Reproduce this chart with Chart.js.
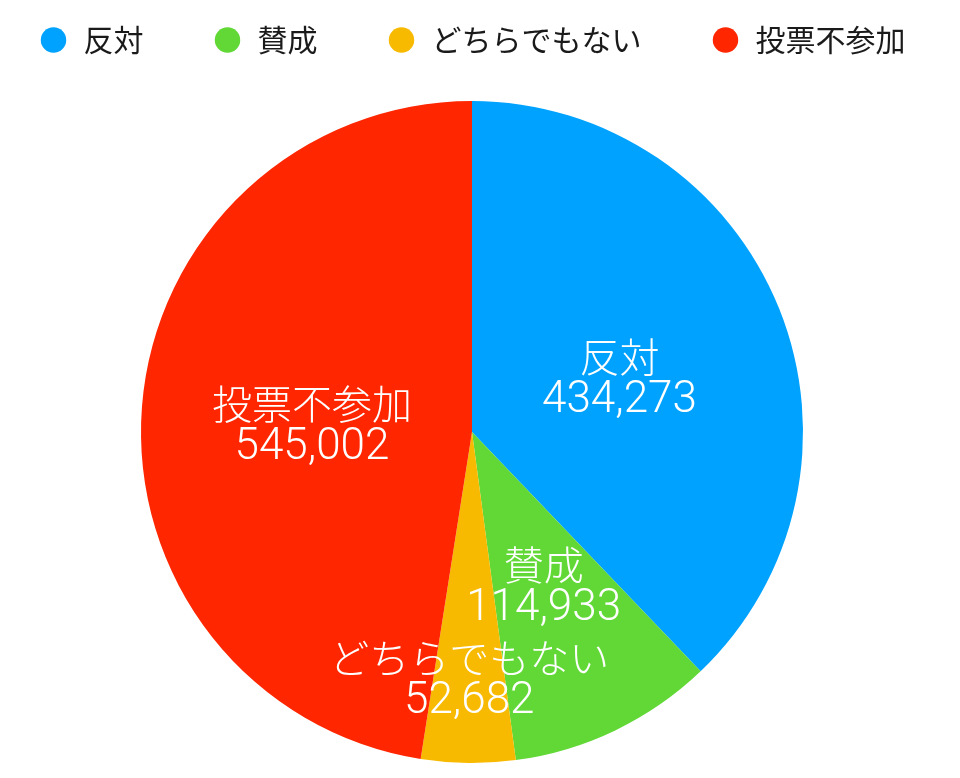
<!DOCTYPE html>
<html>
<head>
<meta charset="utf-8">
<script src="https://cdn.jsdelivr.net/npm/chart.js@4"></script>
<style>
  html, body { margin: 0; padding: 0; background: #fff; }
  #wrap { width: 960px; height: 778px; }
</style>
</head>
<body>
<div id="wrap"><canvas id="voteChart"></canvas></div>
<script>
// Vote results
const labels = ['反対', '賛成', 'どちらでもない', '投票不参加'];
const votes = [434273, 114933, 52682, 545002];
const colors = ['#00A2FF', '#61D836', '#F8BA00', '#FF2600'];
// how far out (fraction of radius) each slice label sits
const labelRadius = [0.48, 0.50, 0.73, 0.485];

const ctx = document.getElementById('voteChart').getContext('2d');

// legend needs wide gaps between items but little vertical padding,
// so the gap is made with trailing full-width spaces
function legendLabels(chart) {
    const items = Chart.overrides.pie.plugins.legend.labels.generateLabels(chart);
    items.forEach((item, i) => {
        if (i < items.length - 1) item.text = item.text + '\u3000\u3000';
    });
    return items;
}

// push the pie down below the legend
const legendSpacer = {
    id: 'legendSpacer',
    beforeInit(chart) {
        const fit = chart.legend.fit;
        chart.legend.fit = function () {
            fit.call(this);
            this.height += 36;
        };
    }
};

// name + value written inside each slice
const sliceLabels = {
    id: 'sliceLabels',
    afterDatasetsDraw(chart) {
        const meta = chart.getDatasetMeta(0);
        const c = chart.ctx;
        c.save();
        c.fillStyle = '#fff';
        c.textAlign = 'center';
        c.textBaseline = 'middle';
        meta.data.forEach((arc, i) => {
            const p = arc.getProps(['x', 'y', 'startAngle', 'endAngle', 'outerRadius'], true);
            const mid = (p.startAngle + p.endAngle) / 2;
            const r = p.outerRadius * labelRadius[i];
            const x = p.x + Math.cos(mid) * r;
            const y = p.y + Math.sin(mid) * r;
            c.font = '300 40px "Noto Sans CJK JP"';
            c.fillText(labels[i], x, y - 16);
            c.font = '300 44px Roboto, "Noto Sans CJK JP"';
            c.fillText(votes[i].toLocaleString('en-US'), x, y + 28);
        });
        c.restore();
    }
};

new Chart(ctx, {
    type: 'pie',
    data: {
        labels: labels,
        datasets: [{
            data: votes,
            backgroundColor: colors,
            borderWidth: 0,
            hoverOffset: 0
        }]
    },
    options: {
        responsive: true,
        maintainAspectRatio: false,
        animation: false,
        layout: { padding: { top: 16, bottom: 15, left: 0, right: 16 } },
        plugins: {
            legend: {
                position: 'top',
                labels: {
                    usePointStyle: true,
                    pointStyle: 'circle',
                    boxWidth: 30,
                    boxHeight: 18,
                    padding: 9,
                    color: '#1a1a1a',
                    font: { family: '"Noto Sans CJK JP"', size: 30 },
                    generateLabels: legendLabels
                }
            },
            tooltip: { enabled: false }
        }
    },
    plugins: [legendSpacer, sliceLabels]
});
</script>
</body>
</html>
